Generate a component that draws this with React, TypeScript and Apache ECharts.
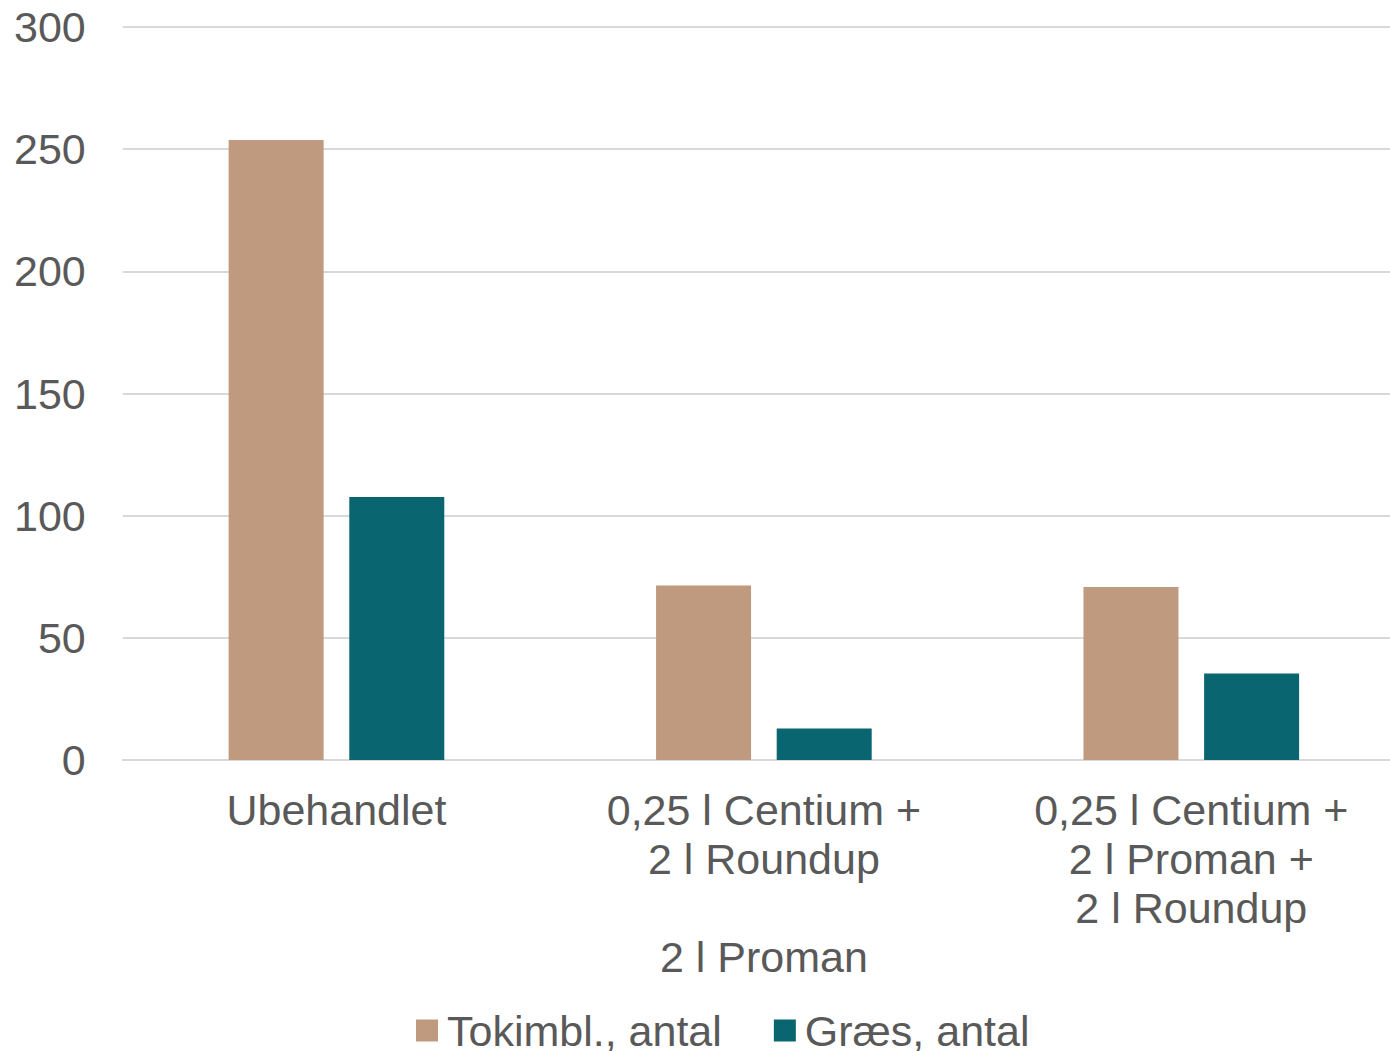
import React, { useEffect, useRef } from "react";
import * as echarts from "echarts";

const categories = [
  "Ubehandlet",
  "0,25 l Centium +\n2 l Roundup\n\n2 l Proman",
  "0,25 l Centium +\n2 l Proman +\n2 l Roundup",
];
const seriesNames = ["Tokimbl., antal", "Græs, antal"];
const tokimblValues = [253.8, 71.4, 70.8];
const graesValues = [107.6, 12.9, 35.4];
const yTicks = { min: 0, max: 300, interval: 50 };

const FONT = "'Liberation Sans', Arial, sans-serif";
const TEXT_COLOR = "#595959";

export default function App() {
  const ref = useRef<HTMLDivElement>(null);
  useEffect(() => {
    if (!ref.current) return;
    const chart = echarts.init(ref.current, null, { renderer: "svg" });
    chart.setOption({
      animation: false,
      backgroundColor: "#ffffff",
      textStyle: { fontFamily: FONT },
      grid: { left: 122.75, right: 0, top: 27, bottom: 291, containLabel: false },
      legend: {
        data: seriesNames,
        left: 411,
        top: 1004,
        itemWidth: 22,
        itemHeight: 22,
        itemGap: 52,
        icon: "rect",
        textStyle: {
          fontFamily: FONT,
          fontSize: 43,
          color: TEXT_COLOR,
          lineHeight: 43,
          padding: [0, 0, 0, 4],
        },
      },
      xAxis: {
        type: "category",
        data: categories,
        axisLine: { show: true, lineStyle: { color: "#d9d9d9", width: 2 } },
        axisTick: { show: false },
        axisLabel: {
          interval: 0,
          margin: 25,
          fontFamily: FONT,
          fontSize: 43,
          lineHeight: 49,
          color: TEXT_COLOR,
          align: "center",
          verticalAlign: "top",
        },
      },
      yAxis: {
        type: "value",
        min: yTicks.min,
        max: yTicks.max,
        interval: yTicks.interval,
        axisLine: { show: false },
        axisTick: { show: false },
        splitLine: { lineStyle: { color: "#d9d9d9", width: 2 } },
        axisLabel: {
          margin: 37,
          fontFamily: FONT,
          fontSize: 43,
          color: TEXT_COLOR,
        },
      },
      series: [
        {
          name: seriesNames[0],
          type: "bar",
          data: tokimblValues,
          barWidth: 95,
          barGap: "27%",
          itemStyle: { color: "#bf9a7e" },
        },
        {
          name: seriesNames[1],
          type: "bar",
          data: graesValues,
          barWidth: 95,
          itemStyle: { color: "#09656f" },
        },
      ],
    });
    return () => chart.dispose();
  }, []);
  return (
    <div style={{ position: "fixed", left: 0, top: 0, width: 1390, height: 1051, overflow: "hidden", background: "#fff" }}>
      <div ref={ref} style={{ width: 1405, height: 1051 }} />
    </div>
  );
}
